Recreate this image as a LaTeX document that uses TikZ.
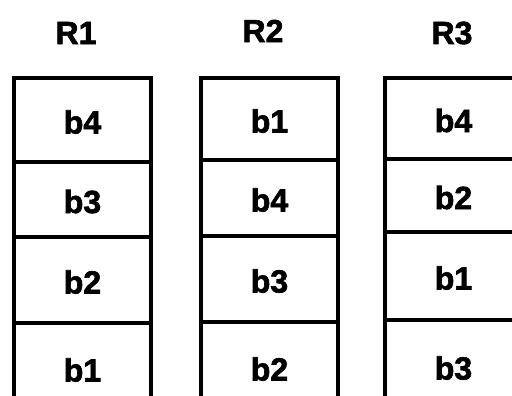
\documentclass[tikz,border=0pt]{standalone}
\usepackage{fontspec}
\setmainfont{Liberation Sans}
\newfontfamily\heavyfont[FakeBold=2]{Liberation Sans Bold}
\begin{document}
\begin{tikzpicture}[x=1pt,y=-1pt,
  cell/.style={draw=black,line width=4pt,minimum width=137pt,anchor=north west,inner sep=0pt,text height=27pt,text depth=0pt,font=\fontsize{32}{34}\heavyfont},
  head/.style={font=\fontsize{32}{34}\heavyfont,inner sep=0pt}]
\useasboundingbox (0,0) rectangle (512,396);
\clip (0,0) rectangle (512,396);
% column 1
\node[head] (h1) at (76,33) {R1};
\node[cell,minimum height=84pt] (c1a) at (12,76) {b4};
\node[cell,minimum height=75pt] (c1b) at (12,160) {b3};
\node[cell,minimum height=86pt] (c1c) at (12,235) {b2};
\node[cell,minimum height=90pt] (c1d) at (12,321) {b1};
% column 2
\node[head] (h2) at (263,31) {R2};
\node[cell,minimum height=82pt] (c2a) at (199,76) {b1};
\node[cell,minimum height=76pt] (c2b) at (199,158) {b4};
\node[cell,minimum height=86pt] (c2c) at (199,234) {b3};
\node[cell,minimum height=90pt] (c2d) at (199,320) {b2};
% column 3
\node[head] (h3) at (452,33) {R3};
\node[cell,minimum height=81pt] (c3a) at (383,76) {b4};
\node[cell,minimum height=73pt] (c3b) at (383,157) {b2};
\node[cell,minimum height=88pt] (c3c) at (383,230) {b1};
\node[cell,minimum height=92pt] (c3d) at (383,318) {b3};
\end{tikzpicture}
\end{document}
